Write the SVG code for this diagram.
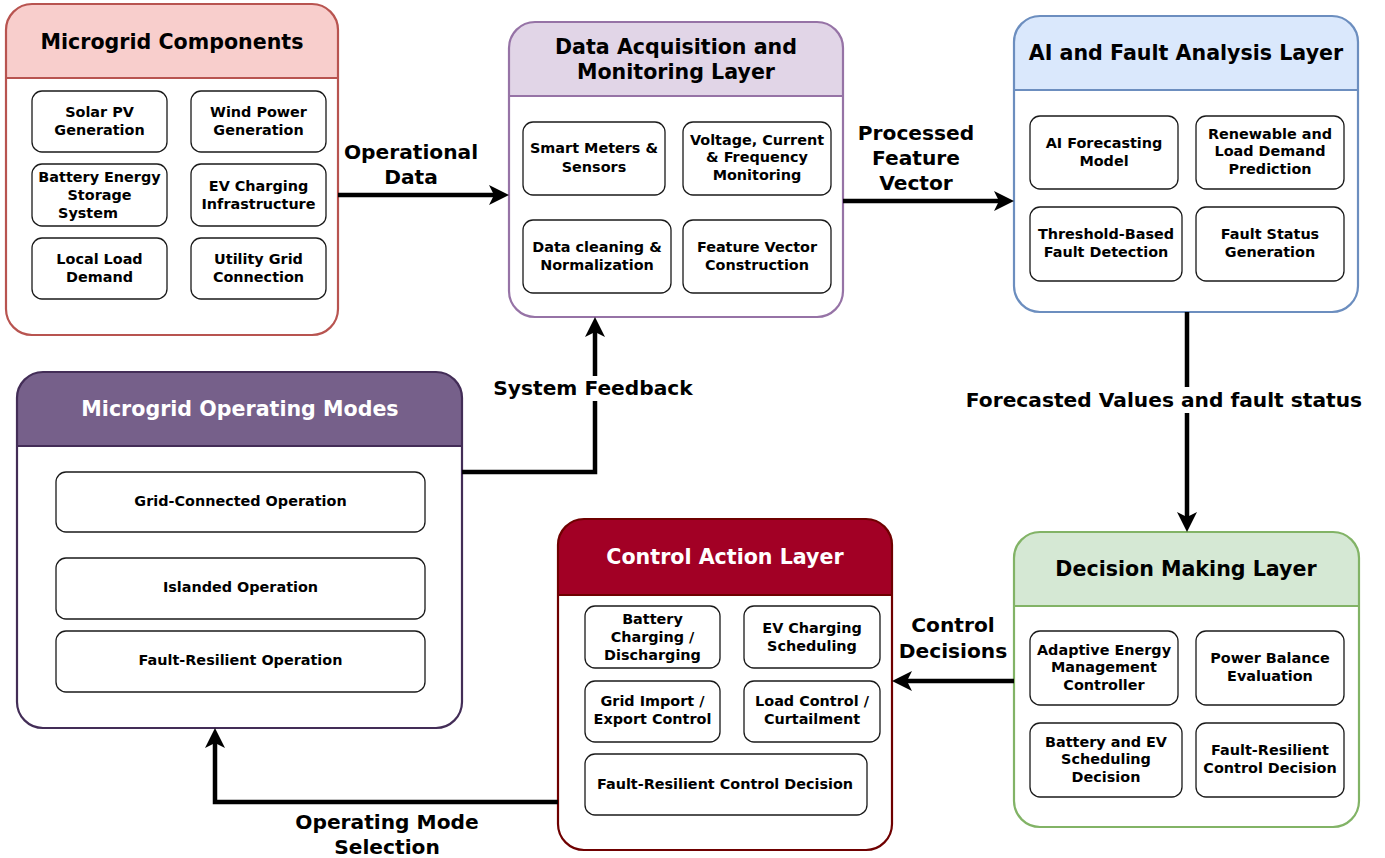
<svg xmlns="http://www.w3.org/2000/svg" width="1385" height="858" viewBox="0 0 1385 858">
<style>
text{font-family:"DejaVu Sans","Verdana","Liberation Sans",sans-serif;font-weight:bold;text-anchor:middle;dominant-baseline:central;fill:#000}
.t{font-size:20.6px}
.tw{font-size:20.6px;fill:#fff}
.s{font-size:14.4px}
.lbl{font-size:20.2px}
.box{fill:#fff;stroke:#1a1a1a;stroke-width:1.3}
.outline{fill:none;stroke-width:2.2}
.body{fill:#fff}
.conn{fill:none;stroke:#000;stroke-width:4.5}
</style>
<defs>
<marker id="arr" viewBox="0 0 20 20" refX="5" refY="10" markerWidth="20" markerHeight="20" markerUnits="userSpaceOnUse" orient="auto">
<path d="M0,0 L20,10 L0,20 L5,10 Z" fill="#000"/>
</marker>
</defs>
<rect width="1385" height="858" fill="#fff"/>

<g id="microgrid-components">
<rect class="body" x="6" y="4" width="332" height="331" rx="26"/>
<path d="M6,78 V30 A26,26 0 0 1 32,4 H312 A26,26 0 0 1 338,30 V78 Z" fill="#f8cecc"/>
<line x1="6" y1="78" x2="338" y2="78" stroke="#b85450" stroke-width="2"/>
<rect class="outline" x="6" y="4" width="332" height="331" rx="26" stroke="#b85450"/>
<text class="t" x="172" y="42">Microgrid Components</text>
<rect class="box" x="32" y="91" width="135" height="61" rx="10"/>
<text class="s"><tspan x="99.5" y="112">Solar PV</tspan><tspan x="99.5" y="130">Generation</tspan></text>
<rect class="box" x="191" y="91" width="135" height="61" rx="10"/>
<text class="s"><tspan x="258.5" y="112">Wind Power</tspan><tspan x="258.5" y="130">Generation</tspan></text>
<rect class="box" x="32" y="164" width="135" height="62" rx="10"/>
<text class="s"><tspan x="99.5" y="177">Battery Energy</tspan><tspan x="99.5" y="195">Storage</tspan><tspan x="88" y="213">System</tspan></text>
<rect class="box" x="191" y="164" width="135" height="62" rx="10"/>
<text class="s"><tspan x="258.5" y="186">EV Charging</tspan><tspan x="258.5" y="204">Infrastructure</tspan></text>
<rect class="box" x="32" y="238" width="135" height="61" rx="10"/>
<text class="s"><tspan x="99.5" y="259">Local Load</tspan><tspan x="99.5" y="277">Demand</tspan></text>
<rect class="box" x="191" y="238" width="135" height="61" rx="10"/>
<text class="s"><tspan x="258.5" y="259">Utility Grid</tspan><tspan x="258.5" y="277">Connection</tspan></text>
</g>

<g id="data-acquisition">
<rect class="body" x="509" y="22" width="334" height="295" rx="26"/>
<path d="M509,96 V48 A26,26 0 0 1 535,22 H817 A26,26 0 0 1 843,48 V96 Z" fill="#e1d5e7"/>
<line x1="509" y1="96" x2="843" y2="96" stroke="#9673a6" stroke-width="2"/>
<rect class="outline" x="509" y="22" width="334" height="295" rx="26" stroke="#9673a6"/>
<text class="t"><tspan x="676" y="47">Data Acquisition and</tspan><tspan x="676" y="72">Monitoring Layer</tspan></text>
<rect class="box" x="523" y="122" width="142" height="73" rx="10"/>
<text class="s"><tspan x="594" y="148">Smart Meters &amp;</tspan><tspan x="594" y="167">Sensors</tspan></text>
<rect class="box" x="683" y="122" width="148" height="73" rx="10"/>
<text class="s"><tspan x="757" y="140">Voltage, Current</tspan><tspan x="757" y="157">&amp; Frequency</tspan><tspan x="757" y="175">Monitoring</tspan></text>
<rect class="box" x="523" y="220" width="148" height="73" rx="10"/>
<text class="s"><tspan x="597" y="247">Data cleaning &amp;</tspan><tspan x="597" y="265">Normalization</tspan></text>
<rect class="box" x="683" y="220" width="148" height="73" rx="10"/>
<text class="s"><tspan x="757" y="247">Feature Vector</tspan><tspan x="757" y="265">Construction</tspan></text>
</g>

<g id="ai-fault-analysis">
<rect class="body" x="1014" y="16" width="344" height="296" rx="26"/>
<path d="M1014,90 V42 A26,26 0 0 1 1040,16 H1332 A26,26 0 0 1 1358,42 V90 Z" fill="#dae8fc"/>
<line x1="1014" y1="90" x2="1358" y2="90" stroke="#6c8ebf" stroke-width="2"/>
<rect class="outline" x="1014" y="16" width="344" height="296" rx="26" stroke="#6c8ebf"/>
<text class="t" x="1186" y="53">AI and Fault Analysis Layer</text>
<rect class="box" x="1030" y="116" width="148" height="73" rx="10"/>
<text class="s"><tspan x="1104" y="143">AI Forecasting</tspan><tspan x="1104" y="161">Model</tspan></text>
<rect class="box" x="1196" y="116" width="148" height="73" rx="10"/>
<text class="s"><tspan x="1270" y="134">Renewable and</tspan><tspan x="1270" y="151">Load Demand</tspan><tspan x="1270" y="169">Prediction</tspan></text>
<rect class="box" x="1030" y="207" width="152" height="74" rx="10"/>
<text class="s"><tspan x="1106" y="234">Threshold-Based</tspan><tspan x="1106" y="252">Fault Detection</tspan></text>
<rect class="box" x="1196" y="207" width="148" height="74" rx="10"/>
<text class="s"><tspan x="1270" y="234">Fault Status</tspan><tspan x="1270" y="252">Generation</tspan></text>
</g>

<g id="operating-modes">
<rect class="body" x="17" y="372" width="445" height="356" rx="26"/>
<path d="M17,446 V398 A26,26 0 0 1 43,372 H436 A26,26 0 0 1 462,398 V446 Z" fill="#76608a"/>
<line x1="17" y1="446" x2="462" y2="446" stroke="#432d57" stroke-width="2"/>
<rect class="outline" x="17" y="372" width="445" height="356" rx="26" stroke="#432d57"/>
<text class="tw" x="240" y="409">Microgrid Operating Modes</text>
<rect class="box" x="56" y="472" width="369" height="60" rx="10"/>
<text class="s" x="240.5" y="501">Grid-Connected Operation</text>
<rect class="box" x="56" y="558" width="369" height="61" rx="10"/>
<text class="s" x="240.5" y="587">Islanded Operation</text>
<rect class="box" x="56" y="631" width="369" height="61" rx="10"/>
<text class="s" x="240.5" y="660">Fault-Resilient Operation</text>
</g>

<g id="control-action">
<rect class="body" x="558" y="519" width="334" height="331" rx="26"/>
<path d="M558,595 V545 A26,26 0 0 1 584,519 H866 A26,26 0 0 1 892,545 V595 Z" fill="#a20025"/>
<line x1="558" y1="595" x2="892" y2="595" stroke="#6f0000" stroke-width="2"/>
<rect class="outline" x="558" y="519" width="334" height="331" rx="26" stroke="#6f0000"/>
<text class="tw" x="725" y="557">Control Action Layer</text>
<rect class="box" x="585" y="606" width="135" height="62" rx="10"/>
<text class="s"><tspan x="652.5" y="619">Battery</tspan><tspan x="652.5" y="637">Charging /</tspan><tspan x="652.5" y="655">Discharging</tspan></text>
<rect class="box" x="744" y="606" width="136" height="62" rx="10"/>
<text class="s"><tspan x="812" y="628">EV Charging</tspan><tspan x="812" y="646">Scheduling</tspan></text>
<rect class="box" x="585" y="681" width="135" height="61" rx="10"/>
<text class="s"><tspan x="652.5" y="701">Grid Import /</tspan><tspan x="652.5" y="719">Export Control</tspan></text>
<rect class="box" x="744" y="681" width="136" height="61" rx="10"/>
<text class="s"><tspan x="812" y="701">Load Control /</tspan><tspan x="812" y="719">Curtailment</tspan></text>
<rect class="box" x="585" y="754" width="282" height="61" rx="10"/>
<text class="s" x="725" y="784">Fault-Resilient Control Decision</text>
</g>

<g id="decision-making">
<rect class="body" x="1014" y="532" width="345" height="295" rx="26"/>
<path d="M1014,606 V558 A26,26 0 0 1 1040,532 H1333 A26,26 0 0 1 1359,558 V606 Z" fill="#d5e8d4"/>
<line x1="1014" y1="606" x2="1359" y2="606" stroke="#82b366" stroke-width="2"/>
<rect class="outline" x="1014" y="532" width="345" height="295" rx="26" stroke="#82b366"/>
<text class="t" x="1186" y="569">Decision Making Layer</text>
<rect class="box" x="1030" y="631" width="148" height="74" rx="10"/>
<text class="s"><tspan x="1104" y="650">Adaptive Energy</tspan><tspan x="1104" y="667">Management</tspan><tspan x="1104" y="685">Controller</tspan></text>
<rect class="box" x="1196" y="631" width="148" height="74" rx="10"/>
<text class="s"><tspan x="1270" y="658">Power Balance</tspan><tspan x="1270" y="676">Evaluation</tspan></text>
<rect class="box" x="1030" y="723" width="152" height="74" rx="10"/>
<text class="s"><tspan x="1106" y="742">Battery and EV</tspan><tspan x="1106" y="759">Scheduling</tspan><tspan x="1106" y="777">Decision</tspan></text>
<rect class="box" x="1196" y="723" width="148" height="74" rx="10"/>
<text class="s"><tspan x="1270" y="750">Fault-Resilient</tspan><tspan x="1270" y="768">Control Decision</tspan></text>
</g>

<g id="connectors">
<path class="conn" d="M338,195 H494" marker-end="url(#arr)"/>
<text class="lbl"><tspan x="411" y="152">Operational</tspan><tspan x="411" y="177">Data</tspan></text>
<path class="conn" d="M843,201 H999" marker-end="url(#arr)"/>
<text class="lbl"><tspan x="916" y="133">Processed</tspan><tspan x="916" y="158">Feature</tspan><tspan x="916" y="183">Vector</tspan></text>
<path class="conn" d="M1187,312 V517" marker-end="url(#arr)"/>
<rect x="961" y="387" width="406" height="26" fill="#fff"/>
<text class="lbl" x="1164" y="400">Forecasted Values and fault status</text>
<path class="conn" d="M1014,681 H907" marker-end="url(#arr)"/>
<text class="lbl"><tspan x="953" y="625">Control</tspan><tspan x="953" y="651">Decisions</tspan></text>
<path class="conn" d="M558,802 H215 V743" marker-end="url(#arr)"/>
<text class="lbl"><tspan x="387" y="822">Operating Mode</tspan><tspan x="387" y="847">Selection</tspan></text>
<path class="conn" d="M462,472 H595 V332" marker-end="url(#arr)"/>
<rect x="490" y="376" width="207" height="25" fill="#fff"/>
<text class="lbl" x="593" y="388">System Feedback</text>
</g>
</svg>
